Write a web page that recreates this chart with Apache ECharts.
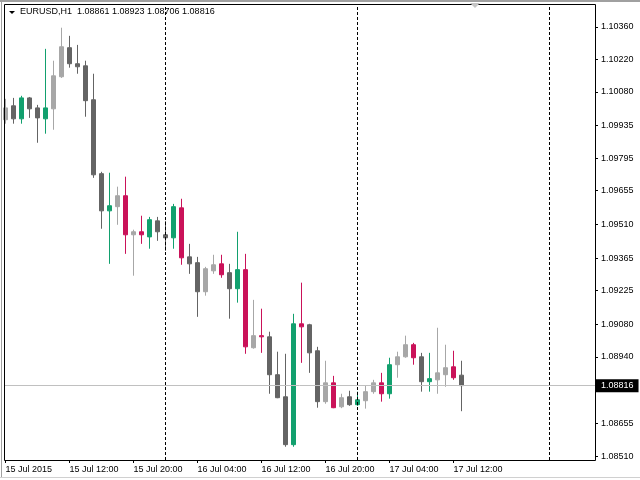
<!DOCTYPE html>
<html><head><meta charset="utf-8">
<script src="https://cdn.jsdelivr.net/npm/echarts@6/dist/echarts.min.js"></script>
<style>html,body{margin:0;padding:0;background:#fff}#c{width:640px;height:480px}</style>
</head><body><div id="c"></div>
<script>
const symbolName = 'EURUSD,H1';
const times = [
 '15 Jul 04:00','15 Jul 05:00','15 Jul 06:00','15 Jul 07:00','15 Jul 08:00','15 Jul 09:00','15 Jul 10:00','15 Jul 11:00',
 '15 Jul 12:00','15 Jul 13:00','15 Jul 14:00','15 Jul 15:00','15 Jul 16:00','15 Jul 17:00','15 Jul 18:00','15 Jul 19:00',
 '15 Jul 20:00','15 Jul 21:00','15 Jul 22:00','15 Jul 23:00','16 Jul 00:00','16 Jul 01:00','16 Jul 02:00','16 Jul 03:00',
 '16 Jul 04:00','16 Jul 05:00','16 Jul 06:00','16 Jul 07:00','16 Jul 08:00','16 Jul 09:00','16 Jul 10:00','16 Jul 11:00',
 '16 Jul 12:00','16 Jul 13:00','16 Jul 14:00','16 Jul 15:00','16 Jul 16:00','16 Jul 17:00','16 Jul 18:00','16 Jul 19:00',
 '16 Jul 20:00','16 Jul 21:00','16 Jul 22:00','16 Jul 23:00','17 Jul 00:00','17 Jul 01:00','17 Jul 02:00','17 Jul 03:00',
 '17 Jul 04:00','17 Jul 05:00','17 Jul 06:00','17 Jul 07:00','17 Jul 08:00','17 Jul 09:00','17 Jul 10:00','17 Jul 11:00',
 '17 Jul 12:00','17 Jul 13:00'
];
const open = [
 1.09960,1.10020,1.09964,1.10054,1.10011,1.09964,1.10007,1.10145,1.10270,1.10201,
 1.10192,1.10046,1.09728,1.09568,1.09586,1.09633,1.09465,1.09478,1.09456,1.09525,
 1.09465,1.09452,1.09581,1.09370,1.09345,1.09220,1.09310,1.09340,1.09302,1.09233,
 1.09315,1.08979,1.09031,1.09026,1.08863,1.08768,1.08562,1.09082,1.09078,1.08966,
 1.08747,1.08828,1.08725,1.08768,1.08734,1.08751,1.08790,1.08828,1.08781,1.08906,
 1.08940,1.08992,1.08940,1.08833,1.08841,1.08863,1.08897,1.08861
];
const high = [
 1.10050,1.10054,1.10063,1.10058,1.10024,1.10265,1.10214,1.10356,1.10321,1.10282,
 1.10214,1.10158,1.09736,1.09732,1.09672,1.09715,1.09487,1.09547,1.09542,1.09542,
 1.09525,1.09598,1.09620,1.09426,1.09370,1.09327,1.09379,1.09379,1.09340,1.09478,
 1.09383,1.09185,1.09147,1.09048,1.08962,1.08953,1.09125,1.09259,1.09082,1.08983,
 1.08923,1.08858,1.08781,1.08794,1.08790,1.08815,1.08841,1.08871,1.08936,1.08962,
 1.09031,1.09000,1.08957,1.08957,1.09065,1.08992,1.08966,1.08923
];
const low = [
 1.09943,1.09943,1.09943,1.09968,1.09861,1.09900,1.09917,1.10140,1.10184,1.10158,
 1.09973,1.09710,1.09491,1.09340,1.09508,1.09383,1.09289,1.09426,1.09405,1.09439,
 1.09396,1.09405,1.09336,1.09297,1.09112,1.09203,1.09297,1.09280,1.09104,1.09173,
 1.08953,1.08975,1.08957,1.08781,1.08762,1.08553,1.08553,1.08914,1.08871,1.08721,
 1.08738,1.08719,1.08719,1.08729,1.08729,1.08717,1.08781,1.08747,1.08760,1.08850,
 1.08936,1.08906,1.08790,1.08790,1.08781,1.08811,1.08841,1.08706
];
const close = [
 1.10011,1.09964,1.10054,1.10007,1.09968,1.10011,1.10149,1.10274,1.10201,1.10188,
 1.10042,1.09723,1.09568,1.09590,1.09633,1.09465,1.09478,1.09465,1.09530,1.09478,
 1.09452,1.09586,1.09366,1.09340,1.09220,1.09319,1.09336,1.09293,1.09233,1.09315,
 1.08983,1.09031,1.09026,1.08863,1.08764,1.08562,1.09082,1.09069,1.08957,1.08747,
 1.08828,1.08721,1.08764,1.08734,1.08755,1.08790,1.08828,1.08781,1.08906,1.08940,
 1.08992,1.08936,1.08833,1.08846,1.08871,1.08893,1.08850,1.08816
];
// candle highlight class: L = plain bull, D = plain bear, G = highlighted bull, R = highlighted bear
const kind = [
 'L','D','G','D','D','G','L','L','D','D',
 'D','D','D','G','L','R','L','R','G','D',
 'D','G','R','D','D','L','L','R','D','G',
 'R','L','R','D','D','D','G','R','D','D',
 'L','R','L','D','G','L','L','R','G','L',
 'L','R','D','G','L','L','R','D'
];
const yTicks = [1.10360,1.10220,1.10080,1.09935,1.09795,1.09655,1.09510,1.09365,1.09225,1.09080,1.08940,1.08800,1.08655,1.08510];
const xTickTimes = ['15 Jul 04:00','15 Jul 12:00','15 Jul 20:00','16 Jul 04:00','16 Jul 12:00','16 Jul 20:00','17 Jul 04:00','17 Jul 12:00'];
const xTickLabels = ['15 Jul 2015','15 Jul 12:00','15 Jul 20:00','16 Jul 04:00','16 Jul 12:00','16 Jul 20:00','17 Jul 04:00','17 Jul 12:00'];
const separators = ['16 Jul 00:00','17 Jul 00:00','18 Jul 00:00'];

const palette = {L:'#a7a7a7', D:'#646464', G:'#12a06e', R:'#ca1259'};
function hourOf(s){ const p = s.split(' '); return (+p[0])*24 + (+p[2].split(':')[0]); }
const h0 = hourOf(times[0]);
const xOf = s => hourOf(s) - h0;
const xTickPos = xTickTimes.map(xOf);
const labelByPos = {}; xTickPos.forEach((p,i)=>labelByPos[p]=xTickLabels[i]);

const last = times.length - 1;
const fmt = v => v.toFixed(5);
const headerText = symbolName + '  ' + [open[last],high[last],low[last],close[last]].map(fmt).join(' ');

const FONT = '"Liberation Sans", Arial, sans-serif';
const data = times.map((t,i)=>{
  const c = palette[kind[i]];
  return {value:[xOf(t), open[i], close[i], low[i], high[i]],
    itemStyle:{color:c,color0:c,borderColor:c,borderColor0:c,borderColorDoji:c,borderWidth:1}};
});

const chart = echarts.init(document.getElementById('c'), null, {renderer:'canvas'});
chart.setOption({
  animation:false,
  backgroundColor:'#ffffff',
  grid:{left:4, top:4, width:591, height:456, show:false, containLabel:false, outerBoundsMode:'none'},
  xAxis:{
    type:'value', min:-0.1875, max:73.6875, position:'bottom',
    splitLine:{show:false}, axisLine:{show:false, onZero:false},
    axisTick:{show:true, length:3, inside:false, customValues:xTickPos, lineStyle:{color:'#000'}},
    axisLabel:{customValues:xTickPos, formatter:v=>labelByPos[v]||'', align:'left', margin:5,
      fontFamily:FONT, fontSize:9, color:'#000'}
  },
  yAxis:{
    type:'value', position:'right', min:1.08496, max:1.10458, scale:true,
    splitLine:{show:false}, axisLine:{show:false, onZero:false},
    axisTick:{show:true, length:3, inside:false, customValues:yTicks, lineStyle:{color:'#000'}},
    axisLabel:{customValues:yTicks, formatter:v=>fmt(v), margin:6, fontFamily:FONT, fontSize:9, color:'#000'}
  },
  series:[
  {
    type:'line', data:[], symbol:'none', silent:true, z:1,
    markLine:{
      silent:true, symbol:['none','none'], animation:false, precision:5,
      data:[
        {yAxis:close[last], lineStyle:{color:'#c0c0c0', width:1, type:'solid'},
          label:{show:true, position:'end', distance:1, formatter:fmt(close[last]),
            backgroundColor:'#000', color:'#fff', padding:[2,5,2,5], fontFamily:FONT, fontSize:9}},
        ...separators.map(s=>({xAxis:xOf(s), lineStyle:{color:'#000', width:1, type:[3,2]}, label:{show:false}}))
      ]
    }
  },
  {
    type:'candlestick',
    dimensions:['x','open','close','low','high'],
    encode:{x:0, y:[1,2,3,4]},
    barWidth:4, z:3,
    data:data
  }],
  graphic:[
    {type:'rect', silent:true, z:100, shape:{x:4.5,y:4.5,width:591,height:456}, style:{fill:null, stroke:'#000', lineWidth:1}},
    {type:'rect', silent:true, z:90, shape:{x:0,y:0,width:640,height:2}, style:{fill:'#a0a0a0'}},
    {type:'rect', silent:true, z:90, shape:{x:1,y:0,width:1,height:478}, style:{fill:'#a0a0a0'}},
    {type:'rect', silent:true, z:90, shape:{x:0,y:477,width:640,height:1}, style:{fill:'#d0d0d0'}},
    {type:'polygon', silent:true, z:101, shape:{points:[[9,11],[15,11],[12,14]]}, style:{fill:'#000'}},
    {type:'polygon', silent:true, z:101, shape:{points:[[470,3],[480,3],[475,8]]}, style:{fill:'#c4c4c4'}},
    {type:'text', silent:true, z:101, left:20, top:7, style:{text:headerText, font:'9px '+FONT, fill:'#000'}}
  ]
});
</script></body></html>
